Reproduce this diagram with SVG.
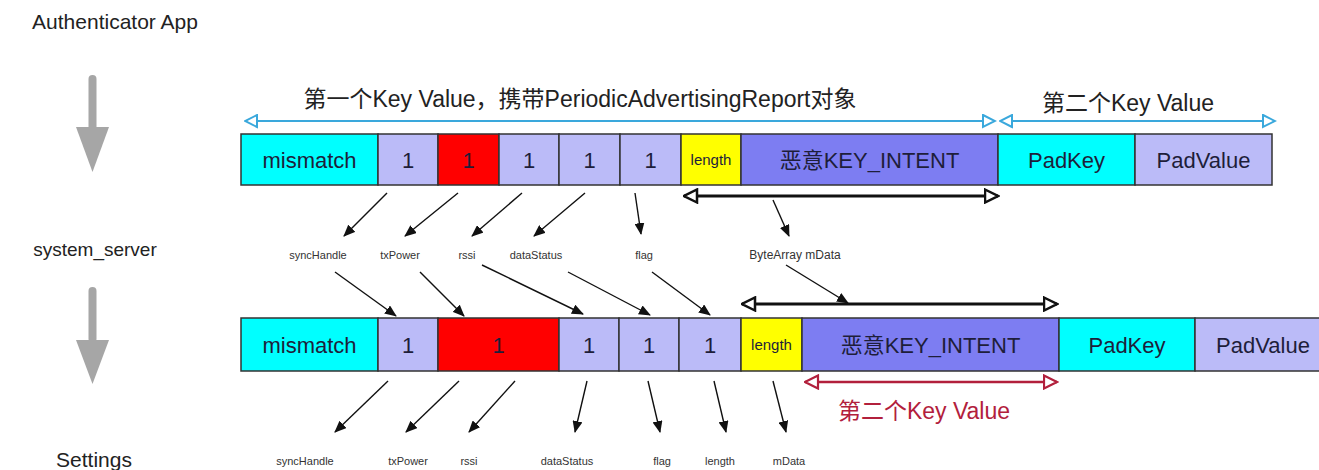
<svg xmlns="http://www.w3.org/2000/svg" width="1319" height="470" viewBox="0 0 1319 470">
<defs>
<style>
.cell{stroke:#333;stroke-width:1.5}
.cy{fill:#00ffff}.lv{fill:#bbbbf8}.rd{fill:#ff0000}.yl{fill:#ffff00}.bv{fill:#7d7df2}
.t{font-family:"Liberation Sans","Noto Sans CJK SC",sans-serif;fill:#1e1e3a;text-anchor:middle}
.big{font-size:22px}
.sm{font-size:15px}
.lab{font-family:"Liberation Sans",sans-serif;font-size:11px;fill:#333;text-anchor:middle}
.side{font-family:"Liberation Sans",sans-serif;font-size:19px;fill:#222;text-anchor:middle}
.head{font-family:"Liberation Sans","Noto Sans CJK SC",sans-serif;font-size:23px;fill:#222;text-anchor:middle}
.thin{stroke:#111;stroke-width:1.4;fill:none;marker-end:url(#ah)}
.blue{stroke:#3aa8dc;stroke-width:2;fill:none;marker-start:url(#ob);marker-end:url(#ob)}
.blk{stroke:#111;stroke-width:3;fill:none;marker-start:url(#ok);marker-end:url(#ok)}
.red{stroke:#b2203c;stroke-width:2.5;fill:none;marker-start:url(#or);marker-end:url(#or)}
.gray{fill:#a6a6a6}
</style>
<marker id="ah" viewBox="0 0 12 10" refX="11" refY="5" markerWidth="12" markerHeight="10" markerUnits="userSpaceOnUse" orient="auto"><path d="M0,0 L12,5 L0,10 z" fill="#111"/></marker>
<marker id="ob" viewBox="0 0 15 15" refX="13.5" refY="7.5" markerWidth="15" markerHeight="15" markerUnits="userSpaceOnUse" orient="auto-start-reverse"><path d="M1.5,1.5 L13.5,7.5 L1.5,13.5 z" fill="#fff" stroke="#3aa8dc" stroke-width="2"/></marker>
<marker id="ok" viewBox="0 0 16 16" refX="14.5" refY="8" markerWidth="16" markerHeight="16" markerUnits="userSpaceOnUse" orient="auto-start-reverse"><path d="M1.5,1.5 L14.5,8 L1.5,14.5 z" fill="#fff" stroke="#111" stroke-width="2.5"/></marker>
<marker id="or" viewBox="0 0 16 16" refX="14.5" refY="8" markerWidth="16" markerHeight="16" markerUnits="userSpaceOnUse" orient="auto-start-reverse"><path d="M1.5,1.5 L14.5,8 L1.5,14.5 z" fill="#fff" stroke="#b2203c" stroke-width="2.2"/></marker>
</defs>
<rect width="1319" height="470" fill="#fff"/>

<g id="side-authenticator"><text class="side" x="115" y="29" style="font-size:21px">Authenticator App</text></g>
<g id="side-system-server"><text class="side" x="95" y="256">system_server</text></g>
<g id="side-settings"><text class="side" x="94" y="467" style="font-size:21px">Settings</text></g>
<g id="flow-arrow-1"><rect class="gray" x="88.5" y="75" width="8" height="56" rx="4"/><path class="gray" d="M76,127 L109,127 L92.5,172 z"/></g>
<g id="flow-arrow-2"><rect class="gray" x="88.5" y="287" width="8" height="56" rx="4"/><path class="gray" d="M76,340 L109,340 L92.5,384 z"/></g>

<g id="title-1"><text class="head" x="580" y="107">第一个Key Value，携带PeriodicAdvertisingReport对象</text></g>
<g id="title-2"><text class="head" x="1128" y="111">第二个Key Value</text></g>

<!-- Row 1 -->
<g id="r1-mismatch"><rect class="cell cy" x="241" y="134" width="137" height="51"/><text class="t big" x="309.5" y="167.5">mismatch</text></g>
<g id="r1-synchandle"><rect class="cell lv" x="378" y="134" width="60" height="51"/><text class="t big" x="408" y="167.5">1</text></g>
<g id="r1-txpower"><rect class="cell rd" x="438" y="134" width="61" height="51"/><text class="t big" x="468.5" y="167.5">1</text></g>
<g id="r1-rssi"><rect class="cell lv" x="499" y="134" width="60" height="51"/><text class="t big" x="529" y="167.5">1</text></g>
<g id="r1-datastatus"><rect class="cell lv" x="559" y="134" width="61" height="51"/><text class="t big" x="589.5" y="167.5">1</text></g>
<g id="r1-flag"><rect class="cell lv" x="620" y="134" width="61" height="51"/><text class="t big" x="650.5" y="167.5">1</text></g>
<g id="r1-length"><rect class="cell yl" x="681" y="134" width="60" height="51"/><text class="t sm" x="711" y="165">length</text></g>
<g id="r1-keyintent"><rect class="cell bv" x="741" y="134" width="257" height="51"/><text class="t big" x="869.5" y="167.5">恶意KEY_INTENT</text></g>
<g id="r1-padkey"><rect class="cell cy" x="998" y="134" width="137" height="51"/><text class="t big" x="1066.5" y="167.5">PadKey</text></g>
<g id="r1-padvalue"><rect class="cell lv" x="1135" y="134" width="137" height="51"/><text class="t big" x="1203.5" y="167.5">PadValue</text></g>

<!-- middle labels -->
<g id="m-synchandle"><text class="lab" x="318" y="259">syncHandle</text></g>
<g id="m-txpower"><text class="lab" x="400" y="259">txPower</text></g>
<g id="m-rssi"><text class="lab" x="467" y="259">rssi</text></g>
<g id="m-datastatus"><text class="lab" x="536" y="259">dataStatus</text></g>
<g id="m-flag"><text class="lab" x="644" y="259">flag</text></g>
<g id="m-bytearray"><text class="lab" x="795" y="259" style="font-size:12px">ByteArray mData</text></g>

<!-- Row 2 -->
<g id="r2-mismatch"><rect class="cell cy" x="241" y="318" width="137" height="53"/><text class="t big" x="309.5" y="352.5">mismatch</text></g>
<g id="r2-synchandle"><rect class="cell lv" x="378" y="318" width="60" height="53"/><text class="t big" x="408" y="352.5">1</text></g>
<g id="r2-txpower"><rect class="cell rd" x="438" y="318" width="121" height="53"/><text class="t big" x="498.5" y="352.5">1</text></g>
<g id="r2-datastatus"><rect class="cell lv" x="559" y="318" width="60" height="53"/><text class="t big" x="589" y="352.5">1</text></g>
<g id="r2-flag"><rect class="cell lv" x="619" y="318" width="60" height="53"/><text class="t big" x="649" y="352.5">1</text></g>
<g id="r2-length"><rect class="cell lv" x="679" y="318" width="62" height="53"/><text class="t big" x="710" y="352.5">1</text></g>
<g id="r2-mdata"><rect class="cell yl" x="741" y="318" width="61" height="53"/><text class="t sm" x="771.5" y="350">length</text></g>
<g id="r2-keyintent"><rect class="cell bv" x="802" y="318" width="257" height="53"/><text class="t big" x="930.5" y="352.5">恶意KEY_INTENT</text></g>
<g id="r2-padkey"><rect class="cell cy" x="1059" y="318" width="136" height="53"/><text class="t big" x="1127" y="352.5">PadKey</text></g>
<g id="r2-padvalue"><rect class="cell lv" x="1195" y="318" width="140" height="53"/><text class="t big" x="1263" y="352.5">PadValue</text></g>

<!-- bottom labels -->
<g id="b-synchandle"><text class="lab" x="305" y="465">syncHandle</text></g>
<g id="b-txpower"><text class="lab" x="408" y="465">txPower</text></g>
<g id="b-rssi"><text class="lab" x="469" y="465">rssi</text></g>
<g id="b-datastatus"><text class="lab" x="567" y="465">dataStatus</text></g>
<g id="b-flag"><text class="lab" x="662" y="465">flag</text></g>
<g id="b-length"><text class="lab" x="720" y="465">length</text></g>
<g id="b-mdata"><text class="lab" x="789" y="465">mData</text></g>

<g id="red-label"><text class="head" x="924" y="419" style="fill:#b2203c">第二个Key Value</text></g>

<g id="connectors">
<line class="blue" x1="245" y1="121" x2="995" y2="121"/>
<line class="blue" x1="1000" y1="121" x2="1275" y2="121"/>
<line class="blk" x1="684" y1="196" x2="998" y2="196"/>
<line class="blk" x1="742" y1="304" x2="1057" y2="304"/>
<line class="red" x1="805" y1="382" x2="1057" y2="382"/>

<line class="thin" x1="387" y1="193" x2="344" y2="236"/>
<line class="thin" x1="458" y1="193" x2="405" y2="236"/>
<line class="thin" x1="522" y1="193" x2="472" y2="236"/>
<line class="thin" x1="585" y1="193" x2="534" y2="236"/>
<line class="thin" x1="635" y1="193" x2="641" y2="234"/>
<line class="thin" x1="773" y1="200" x2="789" y2="236"/>

<line class="thin" x1="335" y1="272" x2="396" y2="316"/>
<line class="thin" x1="420" y1="272" x2="464" y2="316"/>
<line class="thin" x1="482" y1="265" x2="583" y2="314"/>
<line class="thin" x1="568" y1="272" x2="650" y2="315"/>
<line class="thin" x1="652" y1="272" x2="710" y2="315"/>
<line class="thin" x1="786" y1="265" x2="848" y2="303"/>

<line class="thin" x1="388" y1="381" x2="335" y2="432"/>
<line class="thin" x1="459" y1="381" x2="406" y2="432"/>
<line class="thin" x1="515" y1="381" x2="469" y2="432"/>
<line class="thin" x1="587" y1="381" x2="575" y2="432"/>
<line class="thin" x1="648" y1="381" x2="660" y2="432"/>
<line class="thin" x1="714" y1="381" x2="726" y2="432"/>
<line class="thin" x1="773" y1="381" x2="786" y2="432"/>
</g>
</svg>
